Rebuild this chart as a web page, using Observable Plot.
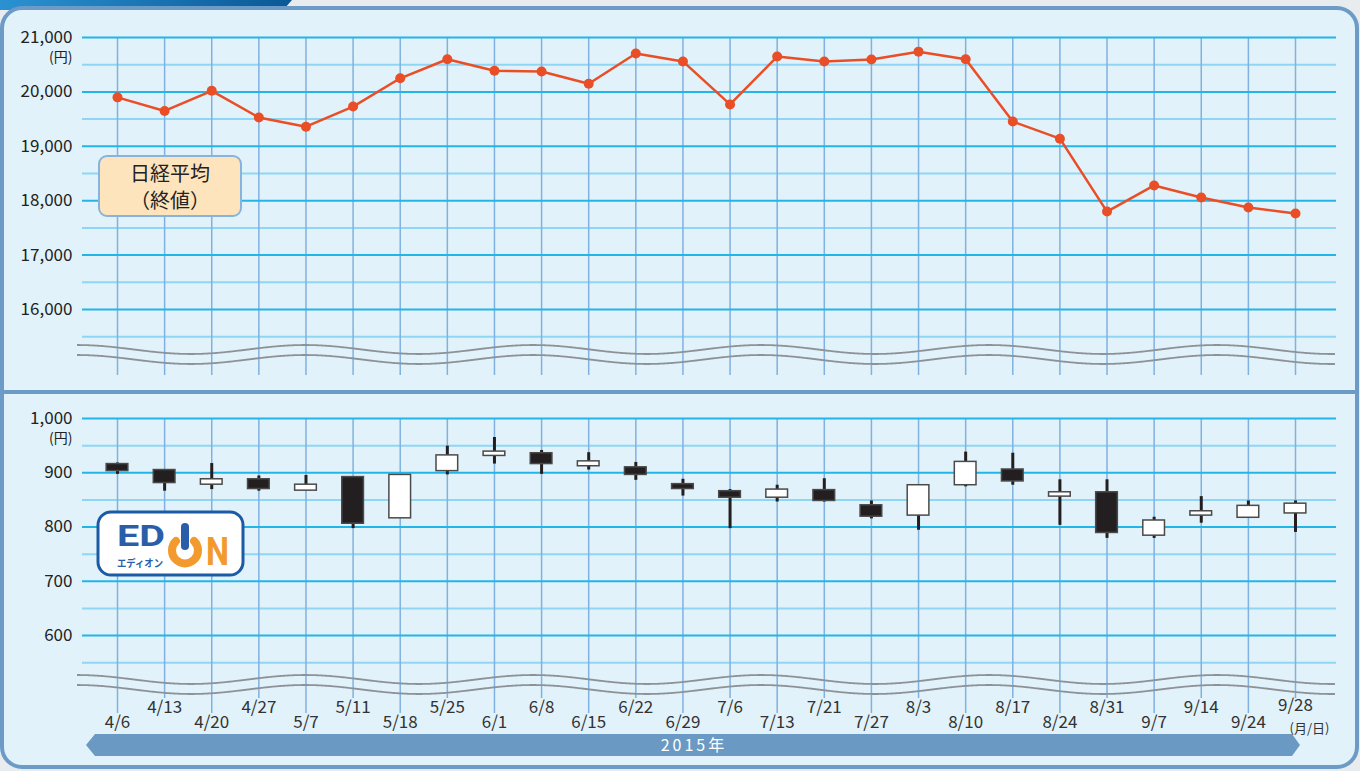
<!DOCTYPE html>
<html><head><meta charset="utf-8">
<script src="https://cdn.jsdelivr.net/npm/d3@7"></script>
<script src="https://cdn.jsdelivr.net/npm/@observablehq/plot@0.6"></script>
<style>
body{margin:0;background:#fff;font-family:"Noto Sans CJK JP","Noto Sans",sans-serif;}
#wrap{position:relative;width:1360px;height:771px;overflow:hidden;background:#e9ecef;}
.strip{position:absolute;left:0;top:0;width:292px;height:10px;background:linear-gradient(to right,#2a92d2,#0a5896);clip-path:polygon(0 0,100% 0,97% 100%,0 100%);}
.panel{position:absolute;left:0;width:1351px;background:#e1f2fa;border:4px solid #6b9bc6;}
.p1{top:6px;height:380px;border-radius:22px 22px 0 0;border-bottom-width:2px;}
.p2{top:392px;height:371px;border-radius:0 0 22px 22px;border-top-width:2px;}
.plot{position:absolute;left:0;top:0;}
.nikkei{position:absolute;left:98px;top:155px;width:140px;background:#fde4bd;border:2px solid #86b4df;border-radius:9px;text-align:center;font-size:20px;line-height:27px;color:#222;padding-top:2px;box-sizing:content-box;}
svg.deco{position:absolute;left:0;top:0;}
</style></head><body>
<div id="wrap">
  <div class="strip"></div>
  <div class="panel p1"></div>
  <div class="panel p2"></div>
  <div id="top" class="plot"></div>
  <div id="bottom" class="plot"></div>
  <div class="nikkei" style="height:56px">日経平均<br>（終値）</div>
  <svg class="deco" width="1360" height="771">
    <g transform="translate(96,510)">
      <rect x="2" y="2" width="145" height="63" rx="13" fill="#fff" stroke="#1b5aa5" stroke-width="3"/>
      <text x="21" y="36" font-size="30" font-weight="bold" fill="#2a5ea8" font-family="Roboto, 'DejaVu Sans'" textLength="48" lengthAdjust="spacingAndGlyphs">ED</text>
      <path d="M 98 31 A 13 13 0 1 1 80 31" fill="none" stroke="#f39a2e" stroke-width="8" stroke-linecap="round"/>
      <rect x="85" y="13" width="8" height="27" rx="4" fill="#2a5ea8"/>
      <text x="110" y="55" font-size="38" font-weight="bold" fill="#f39a2e" font-family="Roboto, 'DejaVu Sans'" textLength="23" lengthAdjust="spacingAndGlyphs">N</text>
      <text x="21" y="57" font-size="10.5" font-weight="bold" fill="#2a5ea8" font-family="'Noto Sans CJK JP'" textLength="46" lengthAdjust="spacingAndGlyphs">エディオン</text>
    </g>
    <polygon points="86,745 95,734 1292,734 1300,745 1292,756 95,756" fill="#6a9ac3"/>
    <text x="694" y="751" text-anchor="middle" fill="#fff" font-size="16" letter-spacing="3" font-family="'Noto Sans CJK JP'">2015年</text>
  </svg>
</div>
<script>
const dates = ["4/6","4/13","4/20","4/27","5/7","5/11","5/18","5/25","6/1","6/8","6/15","6/22","6/29","7/6","7/13","7/21","7/27","8/3","8/10","8/17","8/24","8/31","9/7","9/14","9/24","9/28"];
const nikkeiClose = [19900,19650,20020,19530,19360,19730,20250,20600,20390,20375,20150,20705,20560,19770,20650,20560,20595,20740,20600,19455,19140,17800,18280,18060,17875,17765];
const edionOpen  = [916,905,878,888,867,892,816,903,931,936,912,910,879,866,854,868,840,821,877,906,856,864,784,821,817,825];
const edionClose = [903,881,888,870,878,806,896,932,939,916,921,896,870,854,869,848,819,877,920,884,864,789,812,829,839,843];
const edionHigh  = [918,906,917,894,895,892,896,949,965,941,937,919,888,869,877,889,848,878,938,936,887,887,818,856,848,848];
const edionLow   = [897,866,869,866,867,797,816,896,916,897,905,886,857,797,846,846,815,794,874,877,803,779,779,807,817,790];
const topTicks = [16000,17000,18000,19000,20000,21000];
const topMinor = [15500,16500,17500,18500,19500,20500];
const bottomTicks = [600,700,800,900,1000];
const bottomMinor = [550,650,750,850,950];
const yUnit = "(円)";
const xUnit = "(月/日)";

const idx = dates.map((d, i) => i);
const last = dates.length - 1;
const upperIdx = idx.filter(i => i % 2 === 1 && i !== last);
const lowerIdx = idx.filter(i => i % 2 === 0);
const font = "'Noto Sans CJK JP','Noto Sans',sans-serif";
const fmt = d3.format(",");
const majorC = "#22b6e8", minorC = "#8fd6f4", vertC = "#80b1e0";

const topPlot = Plot.plot({
  width: 1360, height: 390,
  marginLeft: 82, marginRight: 24, marginTop: 37, marginBottom: 15,
  x: {type: "linear", domain: [0, 25], range: [117, 1295], axis: null},
  y: {domain: [16000, 21000], range: [309, 37], axis: null},
  style: {background: "transparent", fontFamily: font, overflow: "visible"},
  marks: [
    Plot.ruleY(topMinor, {stroke: minorC, strokeWidth: 2}),
    Plot.ruleX(idx, {x: d => d, stroke: vertC, strokeWidth: 1.5}),
    Plot.ruleY(topTicks, {stroke: majorC, strokeWidth: 2}),
    Plot.text(topTicks, {y: d => d, frameAnchor: "left", dx: -10, textAnchor: "end", text: d => fmt(d), fontSize: 17, fill: "#222"}),
    Plot.text([yUnit], {y: () => 21000, frameAnchor: "left", dx: -10, dy: 20, textAnchor: "end", text: d => d, fontSize: 14, fill: "#222"}),
    Plot.line(idx, {x: d => d, y: i => nikkeiClose[i], stroke: "#e94e27", strokeWidth: 2.5}),
    Plot.dot(idx, {x: d => d, y: i => nikkeiClose[i], r: 5, fill: "#e94e27"})
  ]
});
document.getElementById("top").append(topPlot);

const bottomPlot = Plot.plot({
  width: 1360, height: 771,
  marginLeft: 82, marginRight: 24, marginTop: 418, marginBottom: 73,
  x: {type: "linear", domain: [0, 25], range: [117, 1295], axis: null},
  y: {domain: [600, 1000], range: [635, 418], axis: null},
  style: {background: "transparent", fontFamily: font, overflow: "visible"},
  marks: [
    Plot.ruleY(bottomMinor, {stroke: minorC, strokeWidth: 2}),
    Plot.ruleX(idx, {x: d => d, stroke: vertC, strokeWidth: 1.5}),
    Plot.ruleY(bottomTicks, {stroke: majorC, strokeWidth: 2}),
    Plot.text(bottomTicks, {y: d => d, frameAnchor: "left", dx: -10, textAnchor: "end", text: d => fmt(d), fontSize: 17, fill: "#222"}),
    Plot.text([yUnit], {y: () => 1000, frameAnchor: "left", dx: -10, dy: 20, textAnchor: "end", text: d => d, fontSize: 14, fill: "#222"}),
    Plot.axisX({ticks: upperIdx, tickSize: 0, tickPadding: 2, tickFormat: i => dates[i], fontSize: 17, fill: "#333", stroke: vertC}),
    Plot.axisX({ticks: lowerIdx, tickSize: 15, tickPadding: 2, tickFormat: i => dates[i], fontSize: 17, fill: "#333", stroke: vertC, strokeWidth: 1.5}),
    Plot.text([last], {x: d => d, frameAnchor: "bottom", lineAnchor: "top", dy: 0, text: i => dates[i], fontSize: 17, fill: "#333"}),
    Plot.text([xUnit], {x: () => last, frameAnchor: "bottom", lineAnchor: "middle", dy: 30, dx: 14, text: d => d, fontSize: 13, fill: "#333"}),
    Plot.ruleX(idx, {x: d => d, y1: i => edionLow[i], y2: i => edionHigh[i], stroke: "#231f20", strokeWidth: 3}),
    Plot.rect(idx, {x1: i => i - 0.23, x2: i => i + 0.23, y1: i => edionOpen[i], y2: i => edionClose[i],
      fill: i => edionClose[i] >= edionOpen[i] ? "#ffffff" : "#231f20", stroke: "#4a4a4a", strokeWidth: 1.5})
  ]
});
document.getElementById("bottom").append(bottomPlot);

// decorative wave (axis break) lines
function wave(svg, base) {
  const pts = d3.range(77, 1337, 2);
  for (const off of [0, 10]) {
    const line = d3.line().x(x => x).y(x => base + off - 4.5 * Math.cos(2 * Math.PI * (x - 305) / 228)).curve(d3.curveBasis);
    d3.select(svg).append("path").attr("d", line(pts)).attr("fill", "none").attr("stroke", "#8d9298").attr("stroke-width", 1.8);
  }
}
wave(topPlot, 349.5);
wave(bottomPlot, 679.5);
</script>
</body></html>
